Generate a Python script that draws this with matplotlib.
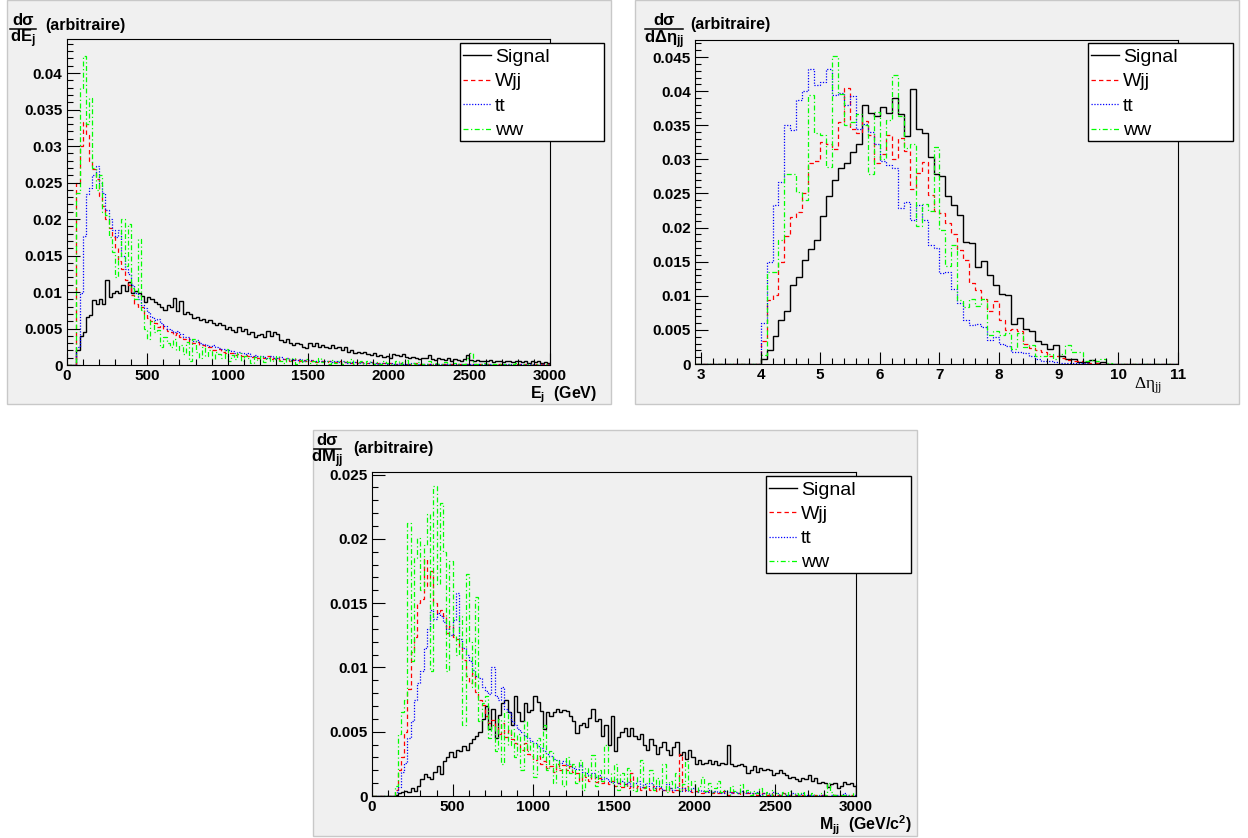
import numpy as np
import matplotlib
matplotlib.use("Agg")
import matplotlib.pyplot as plt
from matplotlib.lines import Line2D
from matplotlib.patches import Rectangle
from matplotlib.ticker import MultipleLocator, FuncFormatter

plt.rcParams["font.family"] = ["Liberation Sans", "DejaVu Sans"]
plt.rcParams["font.weight"] = "bold"
plt.rcParams["mathtext.default"] = "regular"

W, H = 1248, 838
CANVAS = "#f0f0f0"
SCALE = 1e-4  # all bin contents below are in units of 1e-4

# ---- E_j : 150 bins of 20 GeV, 0 -> 3000 GeV ----
ej_edges = np.linspace(0, 3000, 151)
ej_signal = [
    0, 0, 0, 20, 40, 45, 66, 68, 89, 84,
    91, 84, 116, 93, 98, 102, 98, 109, 102, 114,
    98, 102, 98, 95, 86, 93, 91, 86, 84, 80,
    75, 82, 80, 92, 74, 88, 70, 72, 70, 64,
    66, 61, 63, 59, 62, 57, 55, 58, 55, 50,
    52, 48, 45, 52, 47, 50, 43, 45, 39, 41,
    43, 39, 46, 40, 45, 43, 34, 32, 36, 30,
    27, 30, 29, 25, 23, 30, 26, 30, 24, 27,
    25, 23, 27, 23, 25, 21, 25, 18, 20, 16,
    18, 16, 18, 15, 14, 16, 13, 14, 11, 13,
    10, 15, 14, 12, 15, 11, 9, 11, 9, 8,
    10, 9, 14, 8, 7, 9, 8, 7, 9, 6,
    8, 7, 6, 8, 14, 7, 6, 7, 5, 6,
    5, 7, 4, 6, 5, 4, 6, 5, 4, 6,
    5, 4, 5, 3, 5, 4, 5, 3, 4, 3]
ej_wjj = [
    0, 0, 0, 250, 300, 333, 315, 280, 268, 255,
    232, 218, 200, 188, 176, 160, 143, 131, 116, 110,
    96, 84, 78, 80, 70, 64, 60, 58, 52, 55,
    49, 46, 45, 41, 44, 39, 36, 37, 32, 30,
    31, 27, 28, 24, 25, 21, 20, 22, 18, 17,
    16, 17, 14, 15, 13, 14, 12, 11, 13, 10,
    11, 9, 12, 8, 9, 10, 7, 8, 9, 6,
    7, 8, 5, 7, 6, 5, 7, 4, 6, 5,
    4, 6, 5, 4, 5, 3, 4, 5, 3, 4,
    3, 4, 2, 3, 4, 2, 3, 2, 3, 2,
    3, 2, 2, 3, 1, 2, 2, 1, 3, 2,
    1, 2, 1, 2, 1, 1, 2, 1, 1, 2,
    1, 1, 1, 2, 1, 1, 1, 0, 1, 1,
    1, 1, 0, 1, 1, 1, 0, 1, 0, 1,
    1, 0, 1, 0, 1, 1, 0, 1, 0, 1]
ej_tt = [
    0, 0, 0, 25, 98, 177, 234, 243, 260, 272,
    250, 235, 212, 200, 185, 175, 185, 150, 132, 125,
    110, 98, 90, 82, 78, 72, 66, 62, 63, 57,
    54, 50, 48, 45, 46, 42, 38, 39, 35, 33,
    34, 30, 29, 28, 26, 27, 24, 23, 22, 20,
    21, 19, 17, 18, 16, 15, 16, 13, 14, 12,
    13, 11, 10, 12, 9, 10, 11, 8, 9, 7,
    8, 7, 8, 6, 7, 7, 6, 5, 6, 5,
    6, 5, 4, 5, 4, 5, 4, 3, 4, 4,
    3, 4, 3, 3, 4, 3, 2, 3, 3, 2,
    3, 2, 2, 3, 2, 2, 2, 3, 1, 2,
    2, 2, 1, 2, 2, 1, 2, 1, 2, 1,
    1, 2, 1, 1, 2, 1, 1, 1, 1, 2,
    1, 1, 1, 0, 1, 1, 1, 1, 0, 1,
    1, 1, 0, 1, 1, 0, 1, 1, 0, 1]
ej_ww = [
    0, 0, 0, 235, 380, 423, 330, 366, 270, 240,
    260, 210, 205, 175, 155, 120, 150, 200, 135, 193,
    105, 90, 173, 75, 50, 35, 60, 45, 48, 25,
    38, 30, 25, 35, 20, 28, 15, 32, 5, 35,
    18, 10, 25, 12, 20, 8, 18, 15, 10, 22,
    6, 14, 8, 16, 5, 12, 9, 3, 11, 7,
    13, 4, 10, 6, 8, 12, 6, 3, 9, 5,
    10, 2, 7, 4, 8, 3, 6, 2, 9, 4,
    5, 1, 7, 3, 6, 2, 5, 4, 8, 1,
    4, 6, 2, 5, 3, 1, 4, 2, 6, 3,
    2, 1, 5, 2, 4, 7, 1, 3, 2, 4,
    1, 2, 5, 1, 3, 2, 1, 4, 2, 1,
    3, 1, 2, 1, 9, 16, 1, 2, 1, 3,
    1, 0, 2, 1, 1, 2, 0, 1, 1, 3,
    1, 0, 1, 2, 0, 1, 1, 0, 1, 1]

# ---- Delta eta_jj : bins of 0.1, filled from 4.0 to 10.0 ----
deta_edges = np.round(np.arange(2.9, 11.05, 0.1), 1)
deta_signal = [
    8, 21, 41, 64, 78, 116, 128, 152, 169, 182,
    217, 246, 270, 288, 295, 311, 322, 379, 368, 364,
    377, 368, 390, 367, 334, 403, 345, 338, 303, 278,
    275, 247, 233, 219, 179, 178, 142, 151, 130, 116,
    102, 101, 59, 68, 52, 48, 33, 29, 22, 28,
    12, 7, 7, 3, 3, 6, 2, 3, 0, 0]
deta_wjj = [
    33, 94, 101, 149, 187, 215, 223, 251, 295, 298,
    325, 322, 315, 355, 405, 345, 338, 356, 335, 295,
    308, 335, 300, 332, 312, 256, 280, 296, 248, 225,
    221, 207, 191, 167, 152, 119, 108, 95, 77, 93,
    64, 50, 52, 48, 30, 23, 21, 18, 12, 11,
    9, 6, 4, 4, 2, 1, 1, 0, 0, 0]
deta_tt = [
    60, 150, 233, 267, 350, 343, 387, 400, 432, 409,
    414, 433, 394, 397, 380, 393, 345, 352, 340, 323,
    297, 292, 287, 228, 237, 211, 233, 211, 175, 170,
    133, 135, 110, 89, 64, 57, 59, 54, 35, 40,
    29, 26, 18, 17, 16, 11, 8, 5, 5, 3,
    2, 1, 1, 1, 1, 0, 0, 0, 0, 0]
deta_ww = [
    13, 135, 135, 182, 279, 279, 252, 240, 394, 338,
    335, 289, 452, 396, 350, 355, 367, 350, 279, 369,
    301, 357, 423, 364, 316, 323, 203, 235, 225, 318,
    197, 143, 175, 94, 83, 95, 85, 95, 43, 48,
    43, 45, 22, 45, 25, 28, 12, 12, 15, 8,
    14, 28, 18, 18, 4, 6, 4, 8, 2, 0]

# ---- M_jj : 150 bins of 20 GeV/c2, 0 -> 3000 ----
mjj_edges = np.linspace(0, 3000, 151)
mjj_signal = [
    0, 0, 0, 0, 0, 0, 0, 1, 2, 3,
    4, 3, 6, 4, 8, 13, 17, 15, 13, 19,
    23, 17, 27, 30, 34, 30, 36, 35, 39, 36,
    41, 44, 47, 50, 60, 70, 52, 68, 45, 63,
    72, 75, 65, 55, 78, 65, 58, 72, 65, 67,
    78, 73, 66, 52, 65, 62, 65, 68, 65, 67,
    66, 62, 58, 49, 55, 57, 54, 61, 68, 58,
    60, 47, 55, 40, 62, 35, 46, 50, 53, 47,
    53, 47, 44, 48, 40, 36, 44, 40, 33, 38,
    42, 36, 32, 38, 42, 32, 34, 29, 36, 30,
    25, 28, 25, 26, 28, 25, 27, 24, 26, 25,
    40, 25, 23, 24, 25, 23, 18, 20, 23, 19,
    22, 20, 21, 20, 16, 18, 20, 18, 16, 14,
    15, 13, 12, 14, 13, 16, 12, 14, 10, 11,
    10, 7, 9, 10, 6, 8, 11, 9, 10, 8]
mjj_wjj = [
    0, 0, 0, 0, 0, 0, 0, 5, 20, 30,
    50, 83, 112, 124, 150, 153, 184, 163, 175, 150,
    142, 145, 140, 127, 132, 124, 122, 116, 106, 93,
    88, 96, 81, 75, 71, 62, 57, 59, 53, 48,
    57, 46, 51, 44, 41, 40, 36, 41, 33, 31,
    28, 31, 25, 27, 22, 23, 19, 25, 20, 24,
    20, 23, 19, 18, 12, 16, 15, 12, 16, 11,
    14, 10, 11, 9, 12, 8, 10, 7, 9, 6,
    18, 6, 8, 5, 7, 6, 5, 8, 4, 6,
    5, 4, 6, 3, 5, 33, 4, 8, 5, 3,
    4, 3, 2, 4, 3, 2, 3, 2, 4, 2,
    1, 3, 2, 2, 1, 3, 2, 1, 2, 1,
    1, 2, 1, 2, 1, 1, 1, 2, 1, 1,
    0, 1, 1, 1, 0, 1, 1, 1, 0, 1,
    1, 0, 1, 1, 0, 1, 1, 0, 1, 0]
mjj_tt = [
    0, 0, 0, 0, 0, 0, 0, 3, 7, 19,
    26, 45, 58, 75, 88, 97, 115, 130, 145, 138,
    142, 140, 135, 130, 125, 137, 158, 122, 115, 110,
    105, 98, 93, 92, 85, 82, 79, 100, 78, 75,
    85, 68, 65, 58, 55, 52, 50, 47, 45, 43,
    41, 39, 37, 35, 33, 31, 29, 28, 26, 27,
    24, 25, 22, 21, 24, 19, 18, 16, 18, 15,
    16, 13, 14, 12, 11, 13, 10, 12, 9, 11,
    8, 10, 12, 7, 9, 8, 10, 6, 8, 7,
    5, 9, 6, 5, 7, 4, 6, 5, 4, 6,
    3, 5, 4, 3, 5, 3, 4, 3, 2, 4,
    3, 2, 3, 2, 4, 2, 3, 2, 2, 3,
    1, 2, 2, 1, 3, 2, 1, 2, 1, 1,
    2, 1, 1, 2, 1, 1, 1, 0, 1, 1,
    1, 0, 1, 1, 1, 0, 2, 1, 0, 1]
mjj_ww = [
    0, 0, 0, 0, 0, 0, 0, 8, 48, 65,
    75, 212, 105, 185, 201, 160, 195, 219, 97, 241,
    165, 228, 190, 97, 183, 125, 110, 140, 55, 173,
    120, 85, 155, 58, 72, 78, 45, 55, 35, 60,
    25, 65, 40, 52, 30, 48, 20, 58, 35, 42,
    15, 45, 30, 55, 20, 35, 10, 28, 22, 8,
    30, 18, 25, 10, 28, 5, 22, 15, 32, 8,
    20, 12, 40, 18, 10, 25, 5, 18, 8, 22,
    12, 4, 15, 28, 6, 10, 20, 5, 14, 8,
    25, 3, 12, 6, 18, 4, 9, 27, 5, 12,
    3, 8, 15, 4, 10, 2, 6, 12, 3, 5,
    1, 8, 4, 2, 9, 3, 5, 1, 4, 2,
    6, 1, 3, 0, 5, 2, 1, 3, 1, 4,
    0, 2, 1, 3, 1, 0, 2, 1, 0, 2,
    1, 10, 3, 1, 0, 1, 1, 1, 0, 2]

NAMES = ["Signal", "Wjj", "tt", "ww"]
STYLES = {
    "Signal": dict(color="black", linewidth=1.0, linestyle="-"),
    "Wjj": dict(color="#ff0000", linewidth=0.9, linestyle=(0, (3.5, 2.5))),
    "tt": dict(color="#0000ff", linewidth=0.9, linestyle=(0, (1, 1.3))),
    "ww": dict(color="#00ff00", linewidth=0.9, linestyle=(0, (4, 2, 1, 2))),
}


def px(x, y):
    """pixel position (from top-left) -> figure fraction"""
    return x / W, 1 - y / H


def add_canvas(fig, x0, y0, x1, y1):
    fig.add_artist(Rectangle(px(x0, y1), (x1 - x0) / W, (y1 - y0) / H,
                             transform=fig.transFigure, facecolor=CANVAS,
                             edgecolor="#c8c8c8", linewidth=1, zorder=-5))


def add_axes(fig, x0, y0, x1, y1):
    l, b = px(x0, y1)
    ax = fig.add_axes([l, b, (x1 - x0) / W, (y1 - y0) / H])
    ax.set_facecolor(CANVAS)
    for sp in ax.spines.values():
        sp.set_linewidth(0.8)
    return ax


def style_axes(ax, xlim, ylim, xmaj, xmin, ymaj, ymin):
    ax.set_xlim(*xlim)
    ax.set_ylim(*ylim)
    ax.xaxis.set_major_locator(MultipleLocator(xmaj))
    ax.xaxis.set_minor_locator(MultipleLocator(xmin))
    ax.yaxis.set_major_locator(MultipleLocator(ymaj))
    ax.yaxis.set_minor_locator(MultipleLocator(ymin))
    ax.xaxis.set_major_formatter(FuncFormatter(lambda v, p: "%g" % round(v, 3)))
    ax.yaxis.set_major_formatter(FuncFormatter(lambda v, p: "%g" % round(v, 4)))
    ax.tick_params(which="both", direction="in", top=False, right=False, width=0.8)
    ax.tick_params(which="major", length=9, labelsize=11, pad=3)
    ax.tick_params(which="minor", length=4.5)


def draw_hists(ax, edges, series):
    for name, vals in zip(NAMES, series):
        ax.stairs(np.asarray(vals) * SCALE, edges, baseline=0, **STYLES[name])


def draw_legend(fig, x0, y0, x1, y1):
    fig.add_artist(Rectangle(px(x0, y1), (x1 - x0) / W, (y1 - y0) / H,
                             transform=fig.transFigure, facecolor="white",
                             edgecolor="black", linewidth=1.0, zorder=5))
    row_h = (y1 - y0) / 4
    for i, name in enumerate(NAMES):
        yc = y0 + (i + 0.5) * row_h
        fig.add_artist(Line2D([(x0 + 3) / W, (x0 + 31) / W], [1 - yc / H] * 2,
                              transform=fig.transFigure, zorder=6, **STYLES[name]))
        fig.text(*px(x0 + 35, yc), name, fontsize=14, fontweight="normal",
                 ha="left", va="center_baseline", zorder=6)


def y_title(fig, xc, x0, x1, y_num, y_bar, y_den, den, x_arb, y_arb):
    fig.text(*px(xc, y_num), "d\u03c3", ha="center", va="baseline", fontsize=12)
    fig.add_artist(Line2D([x0 / W, x1 / W], [1 - y_bar / H] * 2, color="black",
                          linewidth=1.1, transform=fig.transFigure))
    fig.text(*px(xc, y_den), den, ha="center", va="baseline", fontsize=12)
    fig.text(*px(x_arb, y_arb), "(arbitraire)", ha="left", va="baseline", fontsize=11.5)


fig = plt.figure(figsize=(W / 100, H / 100), dpi=100)
fig.patch.set_facecolor("white")

add_canvas(fig, 7, 0, 611, 404)
add_canvas(fig, 635, 0, 1239, 404)
add_canvas(fig, 313, 430, 917, 836)

# E_j panel
ax1 = add_axes(fig, 66.7, 39.5, 550, 365)
draw_hists(ax1, ej_edges, [ej_signal, ej_wjj, ej_tt, ej_ww])
style_axes(ax1, (0, 3000), (0, 0.0446), 500, 100, 0.005, 0.001)
draw_legend(fig, 460, 43, 604, 141)
y_title(fig, 23, 10, 36, 25, 29.5, 42, r"$dE_j$", 45, 30)
fig.text(*px(597, 398), r"$E_j$  (GeV)", ha="right", va="baseline", fontsize=11.5)

# Delta eta panel
ax2 = add_axes(fig, 695, 40, 1178, 364)
pad_lo = np.zeros(11)
pad_hi = np.zeros(len(deta_edges) - 1 - 11 - len(deta_signal))
deta_series = [np.concatenate([pad_lo, s, pad_hi])
               for s in (deta_signal, deta_wjj, deta_tt, deta_ww)]
draw_hists(ax2, deta_edges, deta_series)
style_axes(ax2, (2.9, 11.0), (0, 0.0475), 1, 0.2, 0.005, 0.001)
draw_legend(fig, 1088, 43, 1233, 141)
y_title(fig, 664, 645, 683, 25, 29.5, 43, r"$d\Delta\eta_{jj}$", 690, 29)
fig.text(*px(1162, 389), r"$\Delta\eta_{jj}$", ha="right", va="baseline",
         fontsize=12.5, fontweight="normal", family="Liberation Serif")

# M_jj panel
ax3 = add_axes(fig, 372, 472, 856, 796)
draw_hists(ax3, mjj_edges, [mjj_signal, mjj_wjj, mjj_tt, mjj_ww])
style_axes(ax3, (0, 3000), (0, 0.0252), 500, 100, 0.005, 0.001)
draw_legend(fig, 766, 476, 911, 573)
y_title(fig, 327, 314, 341, 445, 449, 462, r"$dM_{jj}$", 353, 453)
fig.text(*px(912, 830), r"$M_{jj}$  (GeV/c$^2$)", ha="right", va="baseline", fontsize=11.5)

fig.savefig("out.png", dpi=100)
